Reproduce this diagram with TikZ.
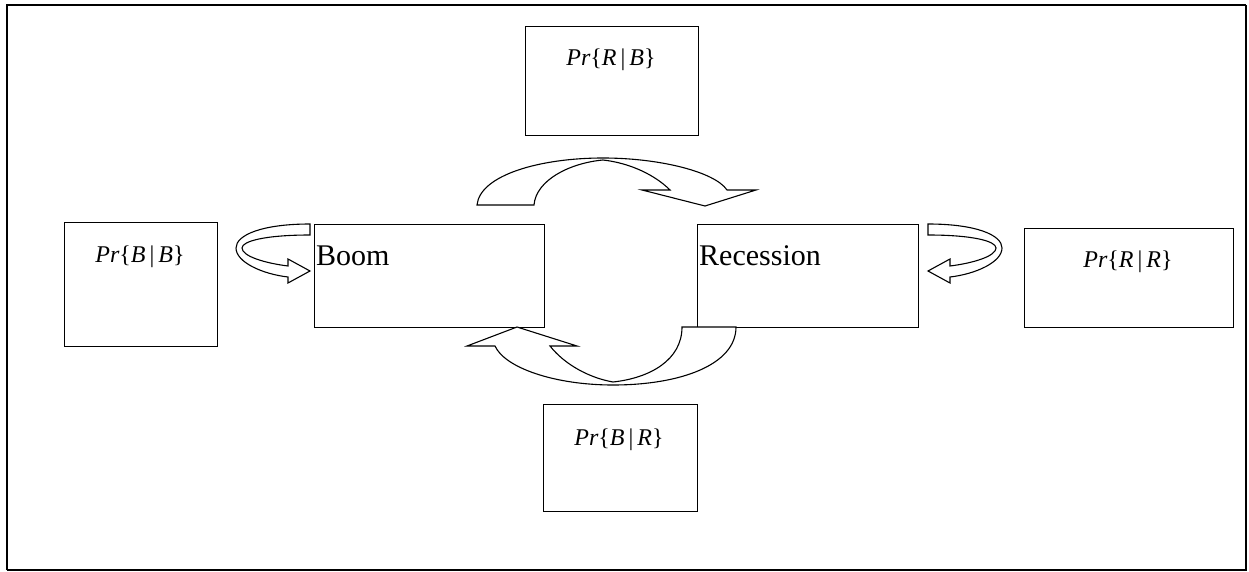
\documentclass[tikz,border=0pt]{standalone}
\usepackage{fontspec}
\setmainfont{Liberation Serif}
\begin{document}
\begin{tikzpicture}[x=1pt,y=-1pt,
  box/.style={draw,line width=1.3pt,inner sep=0pt,anchor=north west},
  prob/.style={font=\fontsize{24}{28}\selectfont,inner sep=0pt},
  state/.style={font=\fontsize{30}{34}\selectfont,inner sep=0pt,anchor=west},
  blockarrow/.style={draw,line width=1.1pt,fill=white,line join=miter}]
\useasboundingbox (0,0) rectangle (1249,572);
\draw[line width=1.6pt] (7,570) -- (1246,570) -- (1246,5);
\draw[line width=2.4pt] (7,570) -- (7,5) -- (1246,5);
% boxes
\node[box,minimum width=173pt,minimum height=109pt] (rb) at (525,26) {};
\node[box,minimum width=153pt,minimum height=124pt] (bb) at (64,222) {};
\node[box,minimum width=230pt,minimum height=103pt] (boom) at (314,224) {};
\node[box,minimum width=221pt,minimum height=103pt] (rec) at (697,224) {};
\node[box,minimum width=209pt,minimum height=99pt] (rr) at (1024,228) {};
\node[box,minimum width=154pt,minimum height=107pt] (br) at (543,404) {};
% texts
\node[prob] (trb) at (611,60) {\textit{Pr}\{\textit{R}\,|\,\textit{B}\}};
\node[prob] (tbb) at (140,257) {\textit{Pr}\{\textit{B}\,|\,\textit{B}\}};
\node[prob] (trr) at (1128,262) {\textit{Pr}\{\textit{R}\,|\,\textit{R}\}};
\node[prob] (tbr) at (619,440) {\textit{Pr}\{\textit{B}\,|\,\textit{R}\}};
\node[state] (tboom) at (316,256) {Boom};
\node[state] (trec) at (699,256) {Recession};
% curved block arrows
\path[blockarrow] (310,224) .. controls (262,224) and (236,235) .. (236,248)
  .. controls (236,262) and (262,274) .. (288,277) -- (288,283) -- (310,271) -- (288,259) -- (288,266)
  .. controls (264,263) and (242,256) .. (242,248)
  .. controls (242,241) and (266,235) .. (310,235) -- cycle;
\path[blockarrow] (928,224) .. controls (976,224) and (1002,235) .. (1002,248)
  .. controls (1002,262) and (976,274) .. (950,277) -- (950,283) -- (928,271) -- (950,259) -- (950,266)
  .. controls (974,263) and (996,256) .. (996,248)
  .. controls (996,241) and (972,235) .. (928,235) -- cycle;
\path[blockarrow] (477,205) .. controls (480,175) and (540,158) .. (603,158)
  .. controls (660,158) and (715,172) .. (727,190) -- (756,190) -- (705,206) -- (642,190) -- (670,190)
  .. controls (655,175) and (630,163) .. (603,160)
  .. controls (570,163) and (536,180) .. (534,205) -- cycle;
\path[blockarrow] (736,327) .. controls (736,365) and (680,385) .. (613,385)
  .. controls (555,385) and (505,368) .. (495,346) -- (467,346) -- (517,327) -- (577,346) -- (550,346)
  .. controls (565,365) and (590,378) .. (613,382)
  .. controls (650,378) and (682,360) .. (682,327) -- cycle;
\end{tikzpicture}
\end{document}
